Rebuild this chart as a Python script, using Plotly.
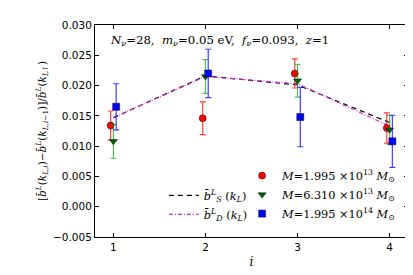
import plotly.graph_objects as go

i_vals = [1, 2, 3, 4]
red_vals = [0.0134, 0.0146, 0.0220, 0.0130]
red_err = [0.0024, 0.0027, 0.0024, 0.0025]
green_vals = [0.0108, 0.0215, 0.0208, 0.0127]
green_err = [0.0028, 0.0028, 0.0027, 0.0024]
blue_vals = [0.0165, 0.0220, 0.0148, 0.0108]
blue_err = [0.0038, 0.0040, 0.0049, 0.0043]
bS_vals = [0.0147, 0.0216, 0.0201, 0.0139]
bD_vals = [0.0147, 0.0215, 0.0203, 0.0133]

SERIF = "DejaVu Serif, serif"
SANS = "DejaVu Sans, sans-serif"

fig = go.Figure()

fig.add_trace(go.Scatter(
    x=i_vals, y=bS_vals, mode="lines", name="<i>b̄</i><sup><i>L</i></sup><sub><i>S</i></sub> (<i>k</i><sub><i>L</i></sub>)",
    line=dict(color="black", dash="5px,4px", width=1.2), legend="legend2"))
fig.add_trace(go.Scatter(
    x=i_vals, y=bD_vals, mode="lines", name="<i>b̄</i><sup><i>L</i></sup><sub><i>D</i></sub> (<i>k</i><sub><i>L</i></sub>)",
    line=dict(color="#cc33cc", dash="4px,2px,1px,2px", width=1.2), legend="legend2"))

series = [
    (red_vals, red_err, -0.03, "rgba(255,0,0,0.75)", "#ff0000", "circle", "1.995"),
    (green_vals, green_err, 0.0, "rgba(0,150,0,0.65)", "#006400", "triangle-down", "6.310"),
    (blue_vals, blue_err, 0.03, "rgba(0,0,255,0.75)", "#0000ff", "square", "1.995"),
]
exps = ["13", "13", "14"]
for (vals, err, off, ecol, mcol, sym, mant), ex in zip(series, exps):
    fig.add_trace(go.Scatter(
        x=[v + off for v in i_vals], y=vals, mode="markers",
        name=f"<i>M</i>={mant} ×10<sup>{ex}</sup> <i>M</i><sub>⊙</sub>",
        marker=dict(color=mcol, symbol=sym, size=7, line=dict(color="black", width=0.5)),
        error_y=dict(type="data", array=err, color=ecol, thickness=1.2, width=3),
        legend="legend"))

fig.add_annotation(
    x=0.04, y=0.925, xref="paper", yref="paper", xanchor="left", yanchor="middle",
    text="<i>N</i><sub><i>ν</i></sub>=28,  <i>m</i><sub><i>ν</i></sub>=0.05 eV,  <i>f</i><sub><i>ν</i></sub>=0.093,  <i>z</i>=1",
    showarrow=False, font=dict(family=SERIF, size=11.7, color="black"))

axis_common = dict(showline=True, linecolor="black", linewidth=1, mirror="allticks",
                   ticks="inside", ticklen=4, tickcolor="black", showgrid=False, zeroline=False,
                   tickfont=dict(family=SANS, size=10.5, color="black"))

fig.update_xaxes(range=[0.8, 4.2], tickvals=i_vals, ticktext=["1", "2", "3", "4"],
                 title=dict(text="<i>i</i>", font=dict(family=SERIF, size=12, color="black"), standoff=6),
                 **axis_common)
fig.update_yaxes(range=[-0.005, 0.030], dtick=0.005, tickformat=".3f",
                 title=dict(text="[<i>b̄</i><sup><i>L</i></sup>(<i>k</i><sub><i>L,i</i></sub>)−<i>b̄</i><sup><i>L</i></sup>(<i>k</i><sub><i>L,i</i>−1</sub>)]/<i>b̄</i><sup><i>L</i></sup>(<i>k</i><sub><i>L</i>↑</sub>)",
                            font=dict(family=SERIF, size=10.5, color="black"), standoff=4),
                 **axis_common)

fig.update_layout(
    width=413, height=275,
    margin=dict(l=87, r=13, t=17, b=46),
    paper_bgcolor="white", plot_bgcolor="white",
    showlegend=True,
    legend=dict(x=0.47, y=0.358, xanchor="left", yanchor="top", bgcolor="rgba(0,0,0,0)",
                font=dict(family=SERIF, size=11.3, color="black"), itemwidth=30,
                tracegroupgap=0, borderwidth=0),
    legend2=dict(x=0.22, y=0.265, xanchor="left", yanchor="top", bgcolor="rgba(0,0,0,0)",
                 font=dict(family=SERIF, size=11.3, color="black"), itemwidth=30,
                 tracegroupgap=0, borderwidth=0),
)

fig.write_html("out.html")
